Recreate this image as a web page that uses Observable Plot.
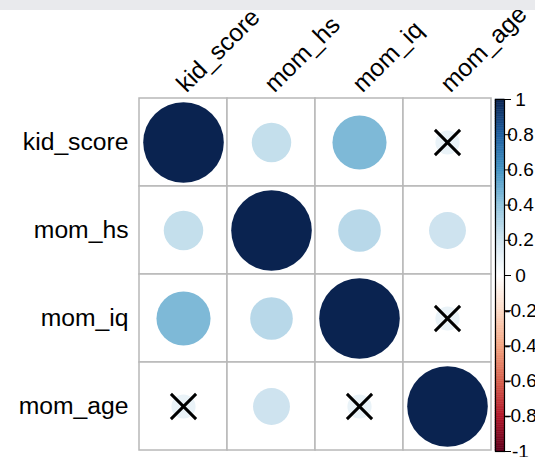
<!DOCTYPE html>
<html>
<head>
<meta charset="utf-8">
<script src="https://cdn.jsdelivr.net/npm/d3@7"></script>
<script src="https://cdn.jsdelivr.net/npm/@observablehq/plot@0.6"></script>
<style>
  html, body { margin: 0; padding: 0; background: white; }
  #wrap { position: relative; width: 535px; height: 457px; overflow: hidden; }
  #wrap svg { position: absolute; left: 0; top: 0; }
  #band { position: absolute; left: 0; top: 0; width: 535px; height: 10px; background: #e9eaed; z-index: 5; }
  #cb svg text { text-anchor: middle; }
</style>
</head>
<body>
<div id="wrap"><div id="band"></div><div id="main"></div><div id="cb"></div></div>
<script>
// Variables (rows and columns of the correlation matrix)
const vars = ["kid_score", "mom_hs", "mom_iq", "mom_age"];
// Correlation values, row by row
const corrKidScore = [1.00, 0.24, 0.45, 0.09];
const corrMomHs    = [0.24, 1.00, 0.28, 0.21];
const corrMomIq    = [0.45, 0.28, 1.00, 0.09];
const corrMomAge   = [0.09, 0.21, 0.09, 1.00];
const corrRows = [corrKidScore, corrMomHs, corrMomIq, corrMomAge];
// Non-significant pairs (crossed out): [row, column]
const insignificant = [
  ["kid_score", "mom_age"],
  ["mom_iq", "mom_age"],
  ["mom_age", "kid_score"],
  ["mom_age", "mom_iq"]
];
// Colour legend
const legendTicks  = [-1, -0.8, -0.6, -0.4, -0.2, 0, 0.2, 0.4, 0.6, 0.8, 1];
const legendLabels = ["-1", "-0.8", "-0.6", "-0.4", "-0.2", "0", "0.2", "0.4", "0.6", "0.8", "1"];
const paletteColors = ["#5E001C", "#B2182B", "#D6604D", "#F4A582", "#FDDBC7", "#FFFFFF",
                       "#D1E5F0", "#92C5DE", "#4393C3", "#1F5FA0", "#0A2350"];

const cells = vars.flatMap((row, i) => vars.map((col, j) => ({row, col, value: corrRows[i][j]})));
const colorScale = {type: "linear", domain: legendTicks, range: paletteColors};
const font = "'Liberation Sans', Arial, sans-serif";

const main = Plot.plot({
  width: 535, height: 457,
  marginLeft: 139, marginRight: 44, marginTop: 98, marginBottom: 7,
  style: {fontFamily: font, fontSize: "24.7px", background: "transparent", color: "black"},
  x: {domain: vars, padding: 0, axis: null},
  y: {domain: vars, padding: 0, tickSize: 0, tickPadding: 11, label: null},
  r: {type: "sqrt", domain: [0, 1], range: [0, 40.3]},
  color: colorScale,
  marks: [
    Plot.cell(cells, {x: "col", y: "row", fill: "white", stroke: "#b8b8b8", strokeWidth: 1.5}),
    Plot.dot(cells, {x: "col", y: "row", r: d => Math.abs(d.value), fill: "value"}),
    Plot.dot(insignificant, {x: d => d[1], y: d => d[0], symbol: "times", r: 11.5, stroke: "black", strokeWidth: 3}),
    Plot.text(vars, {x: d => d, frameAnchor: "top", dx: 3, dy: -5, rotate: -45,
                     textAnchor: "start", lineAnchor: "bottom", fontSize: 24.7, fill: "black"})
  ]
});
document.getElementById("main").appendChild(main);

const steps = d3.range(200).map(i => ({lo: -1 + i * 0.01, hi: -1 + (i + 1) * 0.01}));
const cb = Plot.plot({
  width: 535, height: 457,
  marginLeft: 495, marginRight: 31, marginTop: 99, marginBottom: 6,
  style: {fontFamily: font, fontSize: "19px", background: "transparent", color: "black"},
  x: {domain: ["bar"], padding: 0, axis: null},
  y: {domain: [-1, 1], axis: "right", ticks: legendTicks,
      tickFormat: d => legendLabels[legendTicks.indexOf(d)],
      tickSize: 6, tickPadding: 10, label: null},
  color: colorScale,
  marks: [
    Plot.barY(steps, {x: () => "bar", y1: "lo", y2: "hi",
                      fill: d => (d.lo + d.hi) / 2, stroke: d => (d.lo + d.hi) / 2, strokeWidth: 0.5}),
    Plot.frame({stroke: "black", strokeWidth: 1.2})
  ]
});
document.getElementById("cb").appendChild(cb);
</script>
</body>
</html>
